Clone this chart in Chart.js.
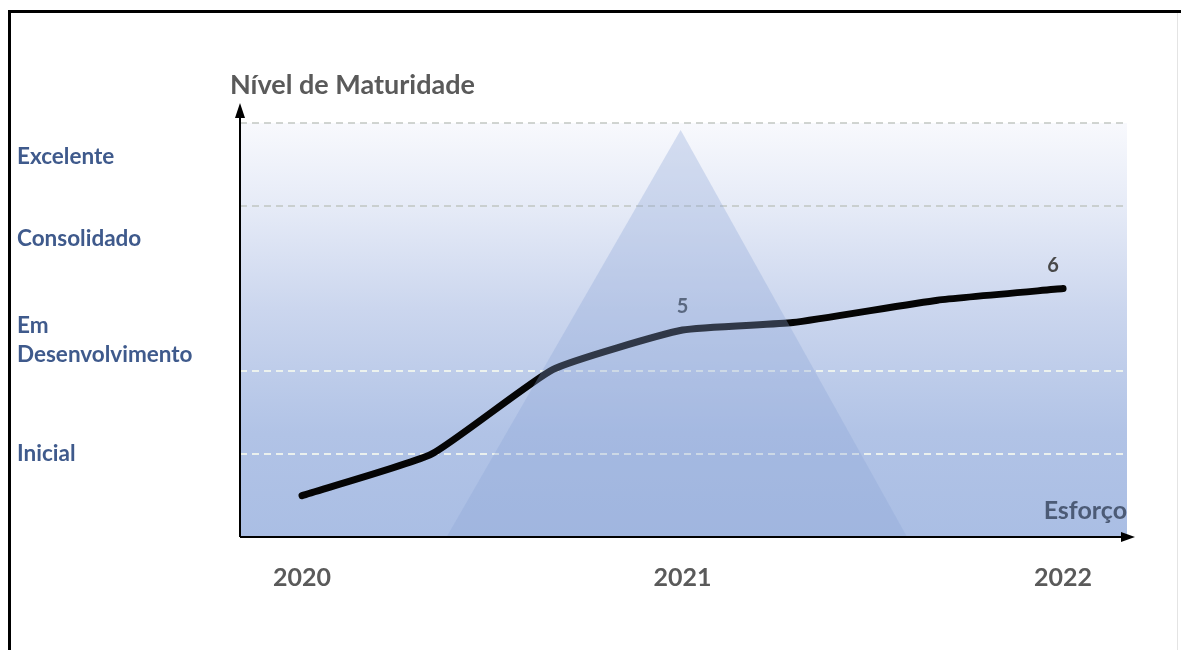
<!DOCTYPE html>
<html>
<head>
<meta charset="utf-8">
<script src="https://cdn.jsdelivr.net/npm/chart.js@4/dist/chart.umd.min.js"></script>
<style>
  html, body { margin: 0; padding: 0; background: #ffffff; }
  #wrap { position: relative; width: 1181px; height: 650px; }
</style>
</head>
<body>
<div id="wrap"><canvas id="c"></canvas></div>
<script>
// ---- data ----
const years = [2020, 2021, 2022];
const effortX = [2020, 2020.34, 2020.66, 2021, 2021.29, 2021.67, 2022];
const maturity = [1.0, 2.0, 4.05, 5.0, 5.18, 5.72, 6.0];
const labeledPoints = [3, 6];
const pyramidX = [2020.38, 2020.995, 2021.59];
const pyramidY = [0, 9.83, 0];
const levelNames = ['Inicial', ['Em', 'Desenvolvimento'], 'Consolidado', 'Excelente'];
const levelValues = [2, 4.76, 7.2, 9.18];
const gridValues = [2, 4, 8, 10];
const yTitle = 'Nível de Maturidade';
const xTitle = 'Esforço';

const FONT = 'Lato, "Open Sans", "DejaVu Sans", sans-serif';

const decor = {
  id: 'decor',
  beforeDraw(chart) {
    const { ctx, chartArea: a } = chart;
    ctx.save();
    const g = ctx.createLinearGradient(0, a.top, 0, a.bottom);
    g.addColorStop(0, '#f8f9fd');
    g.addColorStop(0.2, '#e6ebf7');
    g.addColorStop(0.45, '#cbd6ee');
    g.addColorStop(0.75, '#b1c3e6');
    g.addColorStop(1, '#aabee4');
    ctx.fillStyle = g;
    ctx.fillRect(a.left, a.top, a.right - a.left, a.bottom - a.top);
    // frame
    ctx.fillStyle = '#000';
    ctx.fillRect(8, 10, 1181 - 8, 3);
    ctx.fillRect(8, 10, 3, 650 - 10);
    ctx.fillStyle = '#e4e4e4';
    ctx.fillRect(1177, 13, 1, 637);
    ctx.restore();
  },
  afterDatasetsDraw(chart) {
    const { ctx, chartArea: a } = chart;
    ctx.save();
    // point value labels
    const meta = chart.getDatasetMeta(1);
    ctx.font = 'bold 20px ' + FONT;
    ctx.textAlign = 'center';
    ctx.textBaseline = 'bottom';
    labeledPoints.forEach((i, k) => {
      const p = meta.data[i];
      ctx.fillStyle = k === 0 ? '#5a6880' : '#484848';
      ctx.fillText(String(Math.round(maturity[i])), p.x + (k === 0 ? 0 : -10), p.y - 13);
    });
    // axes arrows
    ctx.strokeStyle = '#000';
    ctx.fillStyle = '#000';
    ctx.lineWidth = 2;
    ctx.beginPath();
    ctx.moveTo(a.left, a.bottom);
    ctx.lineTo(a.left, a.top - 12);
    ctx.moveTo(a.left, a.bottom);
    ctx.lineTo(a.right + 2, a.bottom);
    ctx.stroke();
    ctx.beginPath();
    ctx.moveTo(a.left, a.top - 20);
    ctx.lineTo(a.left - 5, a.top - 5);
    ctx.lineTo(a.left + 5, a.top - 5);
    ctx.closePath();
    ctx.fill();
    ctx.beginPath();
    ctx.moveTo(a.right + 8, a.bottom);
    ctx.lineTo(a.right - 6, a.bottom - 5);
    ctx.lineTo(a.right - 6, a.bottom + 5);
    ctx.closePath();
    ctx.fill();
    // axis titles
    ctx.textAlign = 'left';
    ctx.textBaseline = 'alphabetic';
    ctx.font = 'bold 27px ' + FONT;
    ctx.fillStyle = '#5a5a5a';
    ctx.fillText(yTitle, a.left - 10, a.top - 29);
    ctx.textAlign = 'right';
    ctx.font = 'bold 25px ' + FONT;
    ctx.fillStyle = '#4c5b76';
    ctx.fillText(xTitle, a.right, a.bottom - 18);
    ctx.restore();
  }
};

new Chart(document.getElementById('c'), {
  type: 'line',
  data: {
    datasets: [
      {
        label: 'pyramid',
        data: pyramidX.map((x, i) => ({ x, y: pyramidY[i] })),
        borderWidth: 0,
        pointRadius: 0,
        tension: 0,
        fill: 'origin',
        backgroundColor: 'rgba(140,165,215,0.32)',
        borderColor: 'rgba(0,0,0,0)'
      },
      {
        label: 'maturity',
        data: effortX.map((x, i) => ({ x, y: maturity[i] })),
        borderColor: '#050505',
        borderWidth: 7,
        borderCapStyle: 'round',
        borderJoinStyle: 'round',
        pointRadius: 0,
        tension: 0.15,
        fill: false,
        clip: false
      }
    ]
  },
  options: {
    responsive: true,
    maintainAspectRatio: false,
    animation: false,
    events: [],
    layout: { padding: { left: 17, top: 123, right: 54, bottom: 0 } },
    plugins: { legend: { display: false }, tooltip: { enabled: false }, title: { display: false } },
    scales: {
      x: {
        type: 'linear',
        min: 2019.837,
        max: 2022.168,
        afterBuildTicks: s => { s.ticks = years.map(v => ({ value: v })); },
        afterFit: s => { s.height = 113; },
        grid: { display: false, drawTicks: false },
        border: { display: false },
        ticks: {
          padding: 26,
          color: '#5a5a5a',
          font: { family: FONT, size: 25, weight: 'bold' },
          callback: v => String(v),
          maxRotation: 0,
          autoSkip: false
        }
      },
      y: {
        type: 'linear',
        position: 'left',
        min: 0,
        max: 10,
        afterBuildTicks: s => { s.ticks = levelValues.map(v => ({ value: v })); },
        afterFit: s => { s.width = 223; },
        grid: { display: false, drawTicks: false },
        border: { display: false },
        ticks: {
          crossAlign: 'far',
          color: '#3f5a8c',
          font: { family: FONT, size: 22.5, weight: 'bold', lineHeight: 1.3 },
          callback: (v, i) => levelNames[i],
          autoSkip: false
        }
      },
      yg: {
        type: 'linear',
        position: 'right',
        min: 0,
        max: 10,
        afterBuildTicks: s => { s.ticks = gridValues.map(v => ({ value: v })); },
        afterFit: s => { s.width = 0; },
        border: { display: false, dash: [7, 5] },
        grid: {
          drawTicks: false,
          lineWidth: 2,
          color: c => (c.tick && c.tick.value >= 8 ? 'rgba(190,195,190,0.7)' : 'rgba(245,248,238,0.85)')
        },
        ticks: { display: false }
      }
    }
  },
  plugins: [decor]
});
</script>
</body>
</html>
